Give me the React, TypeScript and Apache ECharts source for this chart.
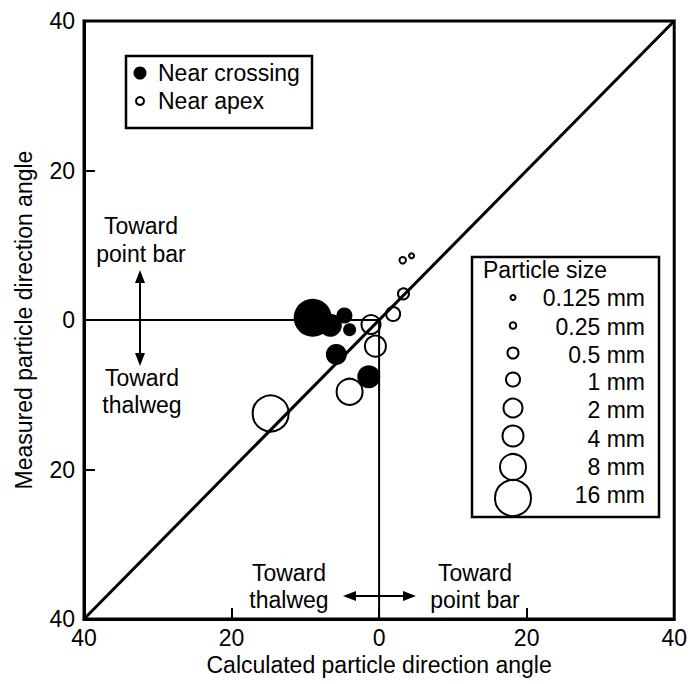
import React, { useEffect, useRef } from "react";
import * as echarts from "echarts";

// ---- data ----
const AXIS_MIN = -40;
const AXIS_MAX = 40;
const AXIS_STEP = 20;
const X_TITLE = "Calculated particle direction angle";
const Y_TITLE = "Measured particle direction angle";
const SERIES_NAMES = ["Near crossing", "Near apex"];

// Near crossing (filled)
const crossingX = [-9.0, -6.6, -4.7, -4.0, -5.8, -1.4];
const crossingY = [0.3, -0.7, 0.6, -1.3, -4.6, -7.6];
const crossingSize = [16, 4, 1, 0.5, 2, 4];

// Near apex (open)
const apexX = [-1.1, -0.5, -4.0, -14.7, 1.9, 3.3, 3.2, 4.4];
const apexY = [-0.6, -3.5, -9.6, -12.5, 0.8, 3.5, 8.0, 8.6];
const apexSize = [2, 4, 8, 16, 1, 0.5, 0.25, 0.125];

const SIZE_CLASSES_MM = [0.125, 0.25, 0.5, 1, 2, 4, 8, 16];
const SIZE_LABELS = ["0.125 mm", "0.25 mm", "0.5 mm", "1 mm", "2 mm", "4 mm", "8 mm", "16 mm"];
const SIZE_TITLE = "Particle size";

// reference lines
const diagonalLine = [[-40, -40], [40, 40]];
const zeroLines = [[-40, 0], [0, 0], [0, -40]];

// annotations
const ANNOT_UP = "Toward\npoint bar";
const ANNOT_DOWN = "Toward\nthalweg";
const ANNOT_LEFT = "Toward\nthalweg";
const ANNOT_RIGHT = "Toward\npoint bar";

// ---- style ----
const FONT = "Liberation Sans";
const FS = 23;
const SYMBOL_DIAMETER: Record<number, number> = {
  0.125: 5,
  0.25: 6.5,
  0.5: 11,
  1: 14,
  2: 19,
  4: 21,
  8: 26,
  16: 36,
};

function zip3(xs: number[], ys: number[], ss: number[]) {
  return xs.map((x, i) => [x, ys[i], ss[i]]);
}

function arrowV(x: number, y1: number, y2: number) {
  const h = 13, w = 5;
  return [
    { type: "line", shape: { x1: x, y1: y1 + h - 2, x2: x, y2: y2 - h + 2 }, style: { stroke: "#000", lineWidth: 2 } },
    { type: "polygon", shape: { points: [[x, y1], [x - w, y1 + h], [x + w, y1 + h]] }, style: { fill: "#000" } },
    { type: "polygon", shape: { points: [[x, y2], [x - w, y2 - h], [x + w, y2 - h]] }, style: { fill: "#000" } },
  ];
}

function arrowH(y: number, x1: number, x2: number) {
  const h = 13, w = 5;
  return [
    { type: "line", shape: { x1: x1 + h - 2, y1: y, x2: x2 - h + 2, y2: y }, style: { stroke: "#000", lineWidth: 2 } },
    { type: "polygon", shape: { points: [[x1, y], [x1 + h, y - w], [x1 + h, y + w]] }, style: { fill: "#000" } },
    { type: "polygon", shape: { points: [[x2, y], [x2 - h, y - w], [x2 - h, y + w]] }, style: { fill: "#000" } },
  ];
}

export default function App() {
  const ref = useRef<HTMLDivElement>(null);

  useEffect(() => {
    document.body.style.margin = "0";
    if (!ref.current) return;
    const chart = echarts.init(ref.current, undefined, { renderer: "svg" });

    const sizeRowsY = [298, 326.5, 354.5, 382, 410, 438.5, 466.5, 495];
    const sizeCircleY = [297.5, 325.5, 353, 379.5, 408, 436, 467, 498];

    const sizeLegend: any[] = [
      {
        type: "rect",
        shape: { x: 472, y: 257, width: 187, height: 260 },
        style: { fill: "#fff", stroke: "#000", lineWidth: 2.5 },
        z: 10,
      },
      {
        type: "text",
        x: 483,
        y: 270,
        style: { text: SIZE_TITLE, font: `${FS}px "${FONT}"`, fill: "#000", verticalAlign: "middle", align: "left" },
        z: 11,
      },
    ];
    SIZE_CLASSES_MM.forEach((mm, i) => {
      sizeLegend.push({
        type: "circle",
        shape: { cx: 513, cy: sizeCircleY[i], r: SYMBOL_DIAMETER[mm] / 2 },
        style: { fill: "none", stroke: "#000", lineWidth: 2 },
        z: 11,
      });
      sizeLegend.push({
        type: "text",
        x: 645,
        y: sizeRowsY[i],
        style: { text: SIZE_LABELS[i], font: `${FS}px "${FONT}"`, fill: "#000", verticalAlign: "middle", align: "right" },
        z: 11,
      });
    });

    const seriesLegend: any[] = [
      {
        type: "rect",
        shape: { x: 126, y: 56, width: 186, height: 72 },
        style: { fill: "#fff", stroke: "#000", lineWidth: 2.5 },
        z: 10,
      },
      { type: "circle", shape: { cx: 140, cy: 73, r: 6.5 }, style: { fill: "#000" }, z: 11 },
      { type: "circle", shape: { cx: 140, cy: 101, r: 4 }, style: { fill: "none", stroke: "#000", lineWidth: 2 }, z: 11 },
      {
        type: "text", x: 158, y: 73,
        style: { text: SERIES_NAMES[0], font: `${FS}px "${FONT}"`, fill: "#000", verticalAlign: "middle" },
        z: 11,
      },
      {
        type: "text", x: 158, y: 101,
        style: { text: SERIES_NAMES[1], font: `${FS}px "${FONT}"`, fill: "#000", verticalAlign: "middle" },
        z: 11,
      },
    ];

    const annotText = (text: string, x: number, y: number, lh: number) => ({
      type: "text",
      x,
      y,
      style: {
        text,
        font: `${FS}px "${FONT}"`,
        fill: "#000",
        align: "center",
        verticalAlign: "middle",
        lineHeight: lh,
      },
      z: 11,
    });

    const annotations: any[] = [
      annotText(ANNOT_UP, 141, 240, 28),
      annotText(ANNOT_DOWN, 142, 391, 27),
      annotText(ANNOT_LEFT, 289, 586, 27),
      annotText(ANNOT_RIGHT, 475, 586, 27),
      ...arrowV(140, 270, 366),
      ...arrowH(596, 343, 416),
    ];

    const axisCommon = {
      type: "value",
      min: AXIS_MIN,
      max: AXIS_MAX,
      interval: AXIS_STEP,
      splitLine: { show: false },
      axisLine: { show: true, onZero: false, lineStyle: { color: "#000", width: 3 } },
      axisTick: { show: true, inside: true, length: 11, lineStyle: { color: "#000", width: 2 } },
      axisLabel: {
        color: "#000",
        fontSize: FS,
        fontFamily: FONT,
        formatter: (v: number) => String(Math.abs(v)),
      },
      nameTextStyle: { color: "#000", fontSize: FS, fontFamily: FONT },
      nameLocation: "middle",
    };

    const option: any = {
      animation: false,
      backgroundColor: "#fff",
      textStyle: { fontFamily: FONT },
      grid: {
        left: 84,
        top: 21,
        width: 594,
        height: 598,
        show: true,
        borderColor: "#000",
        borderWidth: 3,
        backgroundColor: "transparent",
      },
      xAxis: {
        ...axisCommon,
        name: X_TITLE,
        nameGap: 34,
        axisLabel: { ...axisCommon.axisLabel, margin: 7 },
      },
      yAxis: {
        ...axisCommon,
        name: Y_TITLE,
        nameGap: 49,
        axisLabel: { ...axisCommon.axisLabel, margin: 9 },
      },
      series: [
        {
          type: "line",
          data: diagonalLine,
          symbol: "none",
          silent: true,
          lineStyle: { color: "#000", width: 3 },
          z: 1,
        },
        {
          type: "line",
          data: zeroLines,
          symbol: "none",
          silent: true,
          lineStyle: { color: "#000", width: 2 },
          z: 1,
        },
        {
          name: SERIES_NAMES[0],
          type: "scatter",
          data: zip3(crossingX, crossingY, crossingSize),
          symbol: "circle",
          symbolSize: (v: number[]) => SYMBOL_DIAMETER[v[2]] + 2,
          itemStyle: { color: "#000", opacity: 1 },
          z: 3,
        },
        {
          name: SERIES_NAMES[1],
          type: "scatter",
          data: zip3(apexX, apexY, apexSize),
          symbol: "circle",
          symbolSize: (v: number[]) => SYMBOL_DIAMETER[v[2]],
          itemStyle: { color: "rgba(0,0,0,0)", borderColor: "#000", borderWidth: 2, opacity: 1 },
          z: 4,
        },
      ],
      graphic: [...seriesLegend, ...sizeLegend, ...annotations],
    };

    chart.setOption(option);
    return () => chart.dispose();
  }, []);

  return <div ref={ref} style={{ width: 690, height: 684 }} />;
}
